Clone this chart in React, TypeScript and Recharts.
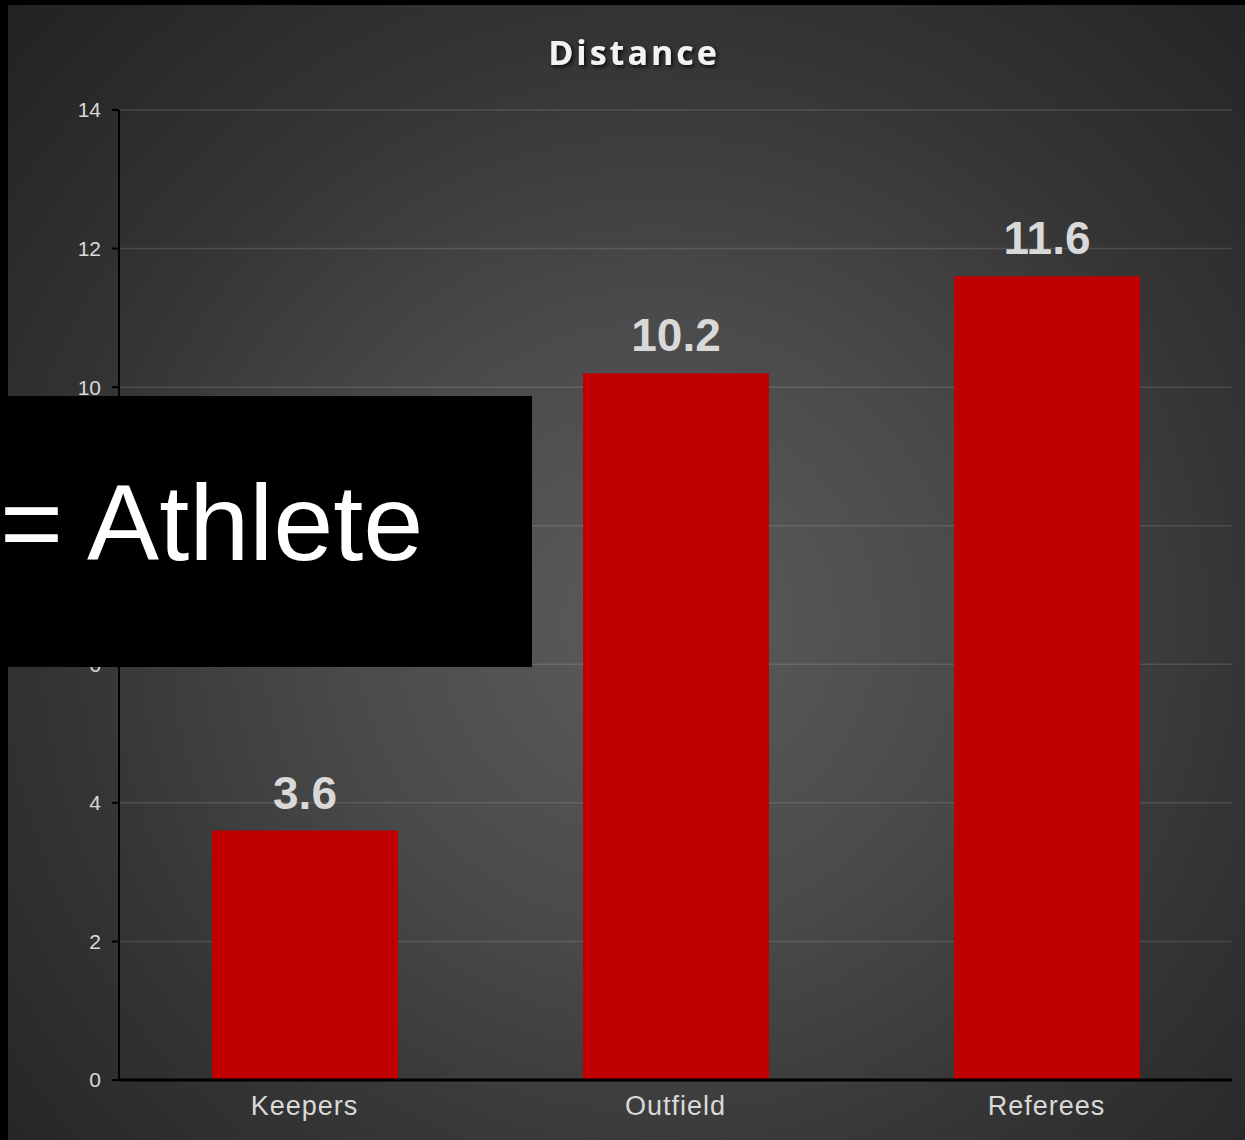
import { BarChart, Bar, XAxis, YAxis, CartesianGrid, LabelList } from 'recharts'

const categories = ['Keepers', 'Outfield', 'Referees']
const distance = [3.6, 10.2, 11.6]
const yTicks = [0, 2, 4, 6, 8, 10, 12, 14]

const data = categories.map((name, i) => ({ name, distance: distance[i] }))

const W = 1245
const H = 1140

export default function App() {
  return (
    <div style={{ position: 'absolute', left: 0, top: 0, width: W, height: H, background: '#000', overflow: 'hidden' }}>
      {/* radial backdrop */}
      <div
        style={{
          position: 'absolute',
          left: 8,
          top: 5,
          width: W - 8,
          height: H - 5,
          background: 'radial-gradient(circle farthest-corner at 650px 620px, #5c5c5c 0%, #4a4a4a 35%, #353535 65%, #222 100%)',
        }}
      />
      <div style={{ position: 'absolute', left: 0, top: 0 }}>
        <BarChart width={W} height={H} data={data} margin={{ top: 110, right: 13, bottom: 0, left: 0 }}>
          <CartesianGrid vertical={false} stroke="rgba(255,255,255,0.12)" strokeWidth={1.5} />
          <XAxis
            dataKey="name"
            height={60}
            axisLine={{ stroke: '#000', strokeWidth: 3 }}
            tickLine={false}
            tickSize={0}
            tickMargin={16}
            tick={{ fill: '#d9d9d9', fontSize: 27, fontFamily: 'Liberation Sans, Arial, sans-serif', fontWeight: 300, letterSpacing: 1 }}
          />
          <YAxis
            width={119}
            domain={[0, 14]}
            ticks={yTicks}
            interval={0}
            axisLine={{ stroke: '#000', strokeWidth: 2 }}
            tickLine={{ stroke: '#000', strokeWidth: 2 }}
            tickSize={7}
            tickMargin={11}
            tick={{ fill: '#d9d9d9', fontSize: 21, fontFamily: 'Liberation Sans, Arial, sans-serif' }}
          />
          <Bar dataKey="distance" fill="#c00000" barSize={186} isAnimationActive={false}>
            <LabelList
              dataKey="distance"
              position="top"
              offset={22}
              fill="#d9d9d9"
              fontSize={46}
              fontWeight="bold"
              fontFamily="Liberation Sans, Arial, sans-serif"
            />
          </Bar>
        </BarChart>
      </div>
      <svg width={W} height={H} style={{ position: 'absolute', left: 0, top: 0, pointerEvents: 'none' }}>
        <defs>
          <filter id="titleShadow" x="-10%" y="-30%" width="130%" height="180%">
            <feDropShadow dx="2" dy="2" stdDeviation="2" floodColor="#000" floodOpacity="0.8" />
          </filter>
        </defs>
        <text
          x={634}
          y={65}
          textAnchor="middle"
          fill="#f2f2f2"
          fontSize={34}
          fontWeight="bold"
          letterSpacing={3}
          fontFamily="Open Sans, sans-serif"
          filter="url(#titleShadow)"
        >
          Distance
        </text>
        <rect x={0} y={396} width={532} height={271} fill="#000" />
        <text x={0} y={560} fill="#fff" fontSize={108} fontFamily="Liberation Sans, Arial, sans-serif">
          = Athlete
        </text>
      </svg>
    </div>
  )
}
